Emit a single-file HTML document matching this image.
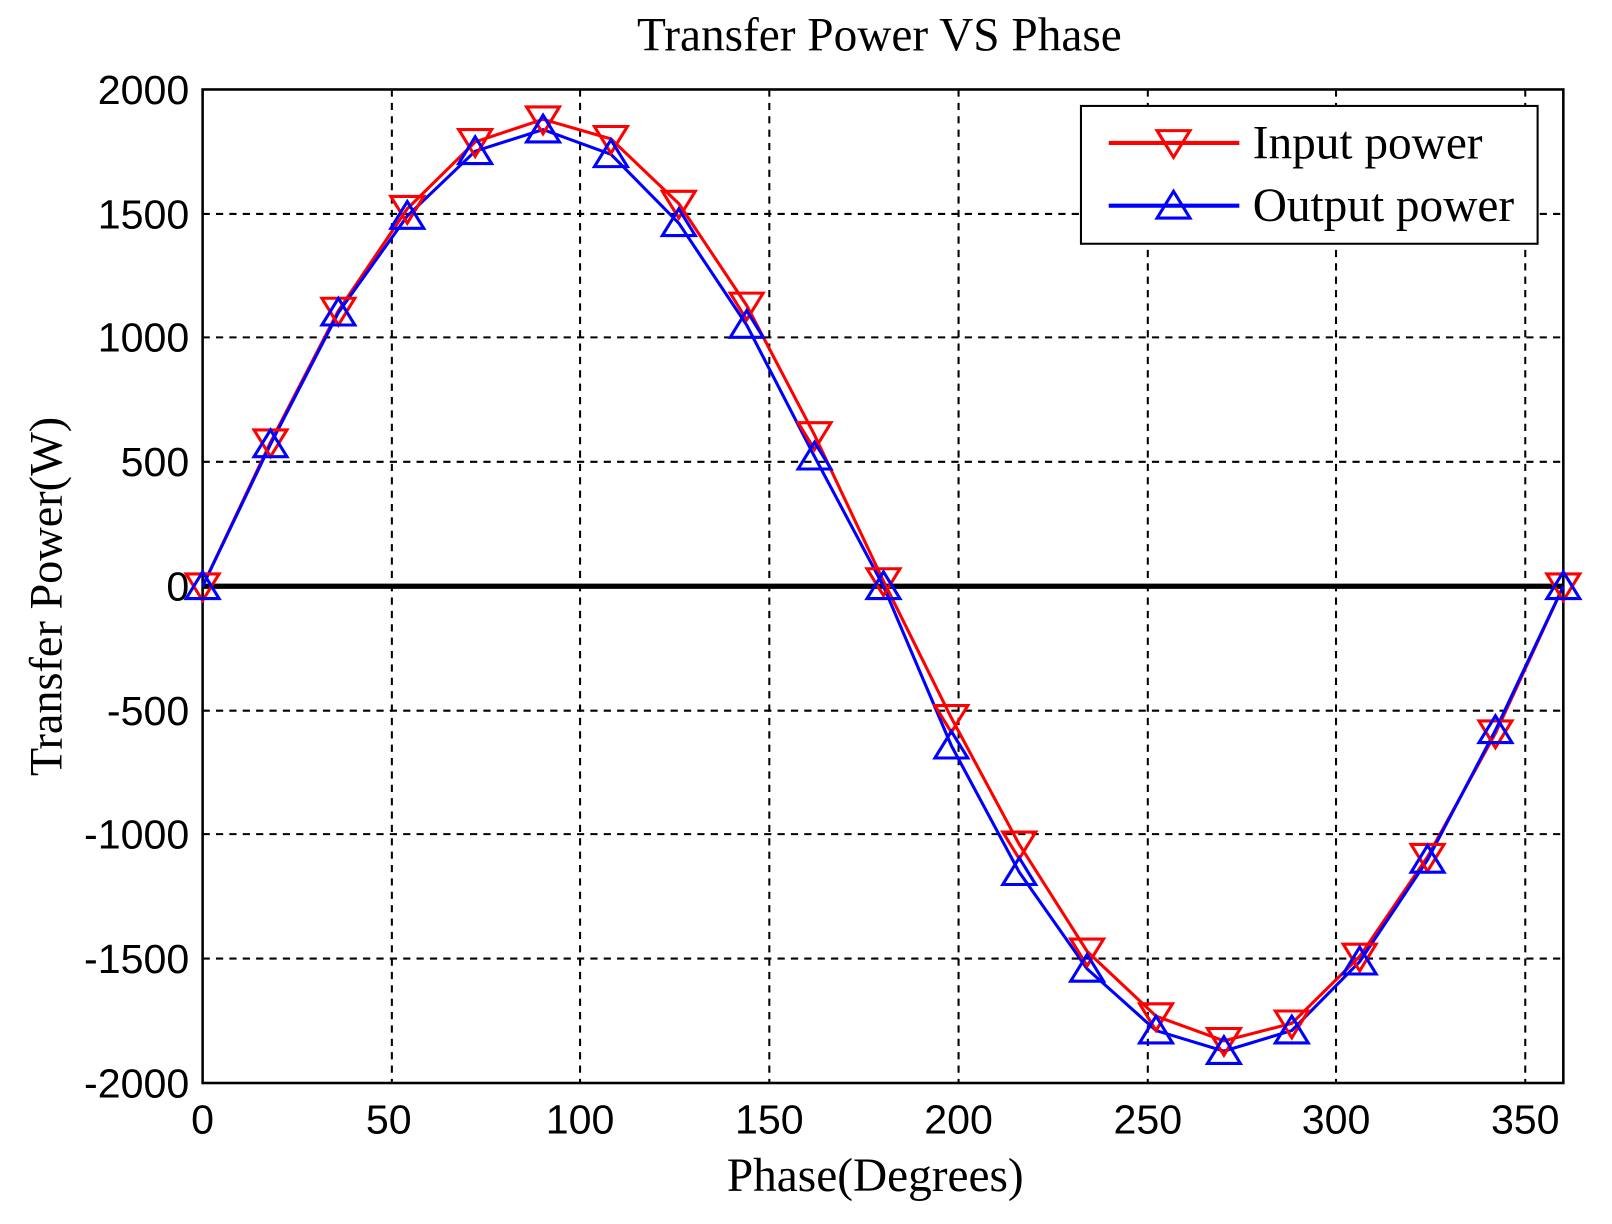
<!DOCTYPE html>
<html><head><style>body{margin:0;background:#fff}</style></head><body>
<svg width="1612" height="1219" xmlns="http://www.w3.org/2000/svg">
<rect width="1612" height="1219" fill="#fff"/>
<g transform="scale(1.0285)">
<g stroke="#000" stroke-width="2" stroke-dasharray="7,6" fill="none">
<line x1="381" y1="87" x2="381" y2="1053"/><line x1="564" y1="87" x2="564" y2="1053"/>
<line x1="748" y1="87" x2="748" y2="1053"/><line x1="932" y1="87" x2="932" y2="1053"/>
<line x1="1116" y1="87" x2="1116" y2="1053"/><line x1="1299" y1="87" x2="1299" y2="1053"/>
<line x1="1483" y1="87" x2="1483" y2="1053"/>
<line x1="197" y1="208" x2="1520" y2="208"/><line x1="197" y1="328" x2="1520" y2="328"/>
<line x1="197" y1="449" x2="1520" y2="449"/><line x1="197" y1="691" x2="1520" y2="691"/>
<line x1="197" y1="811" x2="1520" y2="811"/><line x1="197" y1="932" x2="1520" y2="932"/>
</g>
<rect x="197" y="87" width="1323" height="966" fill="none" stroke="#000" stroke-width="2.5"/>
<line x1="197" y1="570" x2="1520" y2="570" stroke="#000" stroke-width="5"/>
<g font-family="Liberation Sans, sans-serif" font-size="40" fill="#000">
<g text-anchor="middle">
<text x="197" y="1102">0</text><text x="378" y="1102">50</text><text x="564" y="1102">100</text>
<text x="748" y="1102">150</text><text x="932" y="1102">200</text><text x="1116" y="1102">250</text>
<text x="1299" y="1102">300</text><text x="1483" y="1102">350</text></g>
<g text-anchor="end">
<text x="184" y="101">2000</text><text x="184" y="222">1500</text><text x="184" y="342">1000</text>
<text x="184" y="463">500</text><text x="184" y="584">0</text><text x="184" y="705">-500</text>
<text x="184" y="825">-1000</text><text x="184" y="946">-1500</text><text x="184" y="1067">-2000</text></g>
</g>
<g font-family="Liberation Serif, serif" fill="#000" text-anchor="middle">
<text x="855" y="49" font-size="46">Transfer Power VS Phase</text>
<text x="851" y="1158" font-size="46">Phase(Degrees)</text>
<text transform="translate(60,580) rotate(-90)" font-size="45">Transfer Power(W)</text>
</g>
<polyline fill="none" stroke="#f00" stroke-width="3" points="197,570 263,430 329,302 396,203 462,138 528,116 594,135 660,198 726,297 792,423 859,565 925,698 991,821 1057,925 1124,988 1190,1012 1256,995 1322,930 1388,833 1454,713 1520,570"/>
<polyline fill="none" stroke="#00f" stroke-width="3" points="197,570 263,432 329,304 396,210 462,147 528,126 594,150 660,217 726,316 792,444 859,570 925,725 991,848 1057,942 1124,1002 1190,1022 1256,1002 1322,935 1388,836 1454,710 1520,570"/>
<g id="mk"></g>
<rect x="1051" y="103" width="444" height="134" fill="#fff" stroke="#000" stroke-width="2"/>
<line x1="1078" y1="139" x2="1205" y2="139" stroke="#f00" stroke-width="4"/>
<polygon points="1125,127 1157,127 1141,153" fill="none" stroke="#f00" stroke-width="3"/>
<line x1="1078" y1="200" x2="1205" y2="200" stroke="#00f" stroke-width="4"/>
<polygon points="1125,212 1157,212 1141,186" fill="none" stroke="#00f" stroke-width="3"/>
<g font-family="Liberation Serif, serif" font-size="46" fill="#000">
<text x="1218" y="154">Input power</text><text x="1218" y="215">Output power</text></g>
</g>
</svg>
<script>
var r=[[197,570],[263,430],[329,302],[396,203],[462,138],[528,116],[594,135],[660,198],[726,297],[792,423],[859,565],[925,698],[991,821],[1057,925],[1124,988],[1190,1012],[1256,995],[1322,930],[1388,833],[1454,713],[1520,570]];
var b=[[197,570],[263,432],[329,304],[396,210],[462,147],[528,126],[594,150],[660,217],[726,316],[792,444],[859,570],[925,725],[991,848],[1057,942],[1124,1002],[1190,1022],[1256,1002],[1322,935],[1388,836],[1454,710],[1520,570]];
var g=document.getElementById('mk'),NS='http://www.w3.org/2000/svg';
function add(pts,col){var p=document.createElementNS(NS,'polygon');p.setAttribute('points',pts);p.setAttribute('fill','none');p.setAttribute('stroke',col);p.setAttribute('stroke-width','3');g.appendChild(p);}
r.forEach(function(p){add((p[0]-16)+','+(p[1]-12)+' '+(p[0]+16)+','+(p[1]-12)+' '+p[0]+','+(p[1]+14),'#f00');});
b.forEach(function(p){add((p[0]-16)+','+(p[1]+12)+' '+(p[0]+16)+','+(p[1]+12)+' '+p[0]+','+(p[1]-14),'#00f');});
</script>
</body></html>
